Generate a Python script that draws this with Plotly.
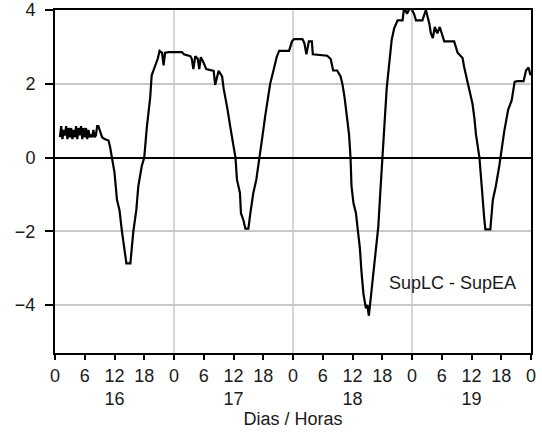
import plotly.graph_objects as go

# Time in hours since day 16 00:00, value SupLC - SupEA
hours = [1.0, 1.25, 1.5, 1.75, 2.0, 2.25, 2.5, 2.75, 3.0, 3.25, 3.5, 3.75, 4.0, 4.25, 4.5, 4.75,
         5.0, 5.25, 5.5, 5.75, 6.0, 6.25, 6.5, 6.75, 7.0, 7.25, 7.5, 7.75, 8.0, 8.25, 8.5, 8.75, 9.0,
         9.5, 10.0, 10.8, 11.1, 11.5, 12.0, 12.5, 13.0, 13.5, 14.0, 14.4, 15.2, 15.5, 15.8, 16.4,
         16.8, 17.5, 18.0, 18.5, 18.9, 19.2, 19.5, 20.2, 20.7, 21.1, 21.6, 21.9, 22.2, 23.0, 24.0,
         25.6, 26.0, 27.3, 27.6, 27.9, 28.3, 28.8, 29.1, 29.4, 29.8, 30.5, 32.0, 32.3, 33.0, 33.7,
         34.0, 34.4, 34.8, 35.4, 36.0, 36.4, 36.7, 37.3, 37.5, 38.0, 38.4, 39.0, 39.4, 40.0, 40.6,
         41.3, 41.8, 42.4, 42.9, 43.4, 44.1, 44.7, 45.2, 47.2, 47.8, 48.2, 49.9, 50.3, 50.7, 51.2,
         51.8, 52.0, 54.9, 55.6, 56.1, 56.9, 57.6, 58.0, 58.4, 58.8, 59.3, 59.6, 59.8, 60.2, 60.7,
         61.0, 61.5, 61.8, 62.2, 62.7, 63.0, 63.3, 63.7, 64.2, 64.7, 65.2, 65.6, 66.1, 66.4, 66.9,
         67.4, 67.9, 68.4, 69.1, 70.1, 70.4, 71.0, 71.6, 72.0, 72.4, 72.8, 74.1, 74.8, 75.5, 75.8,
         76.2, 76.6, 77.1, 77.6, 78.2, 78.5, 80.5, 81.2, 82.2, 82.5, 83.2, 83.7, 84.2, 84.6, 84.9,
         85.6, 85.9, 86.2, 86.6, 86.8, 87.8, 88.3, 88.9, 89.6, 90.1, 90.6, 91.4, 92.1, 92.7, 93.2,
         94.5, 95.0, 95.5, 95.9]
values = [0.55, 0.85, 0.5, 0.75, 0.6, 0.85, 0.5, 0.8, 0.55, 0.8, 0.5, 0.75, 0.55, 0.85, 0.5, 0.8,
          0.6, 0.85, 0.5, 0.8, 0.55, 0.8, 0.5, 0.75, 0.55, 0.6, 0.55, 0.75, 0.55, 0.6, 0.85, 0.85, 0.75,
          0.55, 0.5, 0.46, 0.29, 0.0, -0.41, -1.15, -1.42, -2.0, -2.47, -2.87, -2.87, -2.47, -2.0, -1.42,
          -0.78, -0.23, 0.0, 0.79, 1.3, 1.63, 2.23, 2.5, 2.67, 2.89, 2.84, 2.5, 2.84, 2.86, 2.86,
          2.86, 2.8, 2.75, 2.67, 2.4, 2.75, 2.67, 2.4, 2.72, 2.62, 2.4, 2.35, 1.97, 2.35, 2.2,
          1.88, 1.63, 1.3, 0.79, 0.29, 0.0, -0.6, -0.96, -1.51, -1.7, -1.93, -1.93, -1.51, -0.96, -0.6,
          0.0, 0.54, 1.13, 1.63, 2.0, 2.38, 2.72, 2.89, 2.89, 3.15, 3.21, 3.21, 3.1, 2.8, 3.15,
          3.15, 2.8, 2.76, 2.67, 2.36, 2.36, 2.2, 1.97, 1.63, 1.13, 0.63, 0.0, -0.78, -1.24, -1.51,
          -1.88, -2.47, -3.08, -3.69, -4.09, -4.0, -4.29, -3.79, -3.18, -2.47, -1.88, -0.96, 0.0, 0.79, 1.88,
          2.47, 3.19, 3.5, 3.72, 3.72, 4.07, 3.9, 4.07, 4.0, 3.9, 3.72, 3.72, 4.0, 3.63, 3.37,
          3.24, 3.54, 3.37, 3.54, 3.28, 3.15, 3.15, 2.84, 2.7, 2.47, 2.05, 1.72, 1.46, 1.05, 0.63,
          0.0, -0.6, -1.15, -1.7, -1.95, -1.95, -1.15, -0.78, -0.23, 0.29, 0.71, 1.3, 1.55, 2.05, 2.07,
          2.07, 2.36, 2.44, 2.23]

hour_ticks = [0, 6, 12, 18, 24, 30, 36, 42, 48, 54, 60, 66, 72, 78, 84, 90, 96]
hour_labels = ["0", "6", "12<br>16", "18", "0", "6", "12<br>17", "18", "0", "6", "12<br>18", "18",
               "0", "6", "12<br>19", "18", "0"]
day_bounds = [24, 48, 72]
y_ticks = [-4, -2, 0, 2, 4]
series_label = "SupLC - SupEA"
x_title = "Dias / Horas"

font = dict(family="Liberation Sans, Arial, sans-serif", size=18, color="#1a1a1a")

fig = go.Figure()
fig.add_trace(go.Scatter(x=hours, y=values, mode="lines",
                         line=dict(color="black", width=2.2),
                         cliponaxis=False, showlegend=False, hoverinfo="skip"))

shapes = [dict(type="line", xref="x", yref="paper", x0=d, x1=d, y0=0, y1=1,
               line=dict(color="#c8c8c8", width=1.5), layer="below") for d in day_bounds]

fig.update_layout(
    width=542, height=432,
    margin=dict(l=55, r=11, t=10, b=79),
    paper_bgcolor="white", plot_bgcolor="white",
    font=font,
    showlegend=False,
    shapes=shapes,
    xaxis=dict(range=[0, 96], tickmode="array", tickvals=hour_ticks, ticktext=hour_labels,
               showgrid=False, zeroline=False, showline=True, linecolor="black", linewidth=2,
               mirror=True, ticks="outside", ticklen=5, tickwidth=2, tickcolor="black",
               title=dict(text=x_title, standoff=2, font=dict(size=18)), tickangle=0,
               automargin=False),
    yaxis=dict(range=[-5.3, 4.0], tickmode="array", tickvals=y_ticks,
               showgrid=True, gridcolor="#c8c8c8", gridwidth=1.5,
               zeroline=True, zerolinecolor="black", zerolinewidth=1.5,
               showline=True, linecolor="black", linewidth=2, mirror=True,
               ticks="outside", ticklen=8, tickwidth=2, tickcolor="black", ticklabelstandoff=6,
               automargin=False),
    annotations=[dict(text=series_label, xref="paper", yref="paper", x=0.836, y=0.2045,
                      showarrow=False, font=dict(size=18, color="#1a1a1a"),
                      xanchor="center", yanchor="middle")],
)

fig.write_html("out.html", config={"displayModeBar": False},
               post_script="document.body.style.margin='0';")
